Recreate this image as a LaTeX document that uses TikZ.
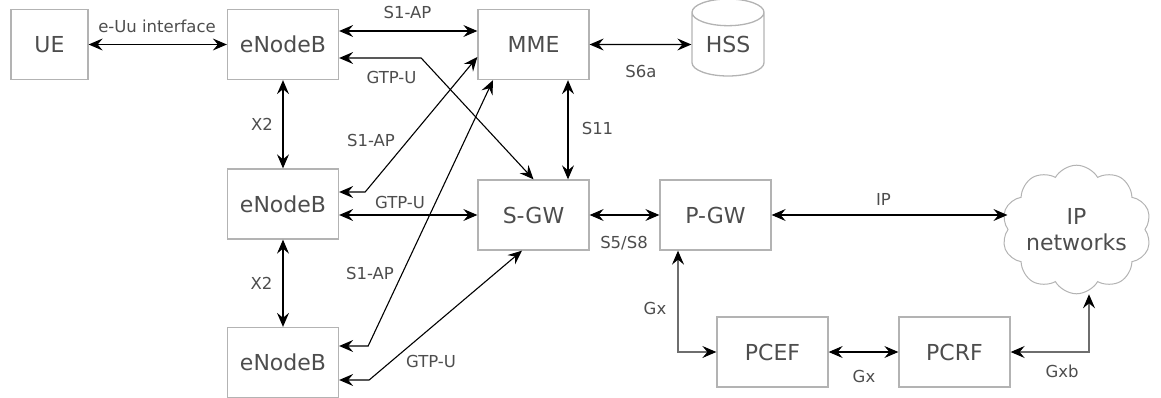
\documentclass[tikz,border=0pt]{standalone}
\usepackage{fontspec}
\setmainfont{DejaVu Sans}
\usepackage{xcolor}
\usetikzlibrary{shapes, shapes.geometric, shapes.symbols, arrows.meta}

\definecolor{boxgray}{RGB}{179,179,179}
\definecolor{textgray}{RGB}{77,77,77}
\definecolor{gxgray}{RGB}{110,110,110}

\begin{document}
\begin{tikzpicture}[x=1pt, y=1pt,
        >={Stealth[length=14pt, width=12pt, inset=5pt, color=black]},
        box/.style={draw=boxgray, line width=1.3pt, text=textgray, minimum width=111pt, minimum height=70pt, inner sep=0pt, font=\fontsize{22}{26}\selectfont},
        lbl/.style={text=textgray, inner sep=0pt, font=\fontsize{16.5}{18}\selectfont},
        link/.style={<->, line width=1.1pt},
        gxlink/.style={<->, line width=1.3pt, draw=gxgray}]
        \useasboundingbox (0, 0) rectangle (1161, -398);

        \node[box, minimum width=77pt] (ue) at (49.5, -44.5) {UE};
        \node[box] (enbA) at (283, -44.5) {eNodeB};
        \node[box] (mme) at (533.5, -44.5) {MME};
        \node[box, cylinder, shape border rotate=90, aspect=0.6, minimum width=72pt, minimum height=77pt] (hss) at (728, -44.5) {HSS};
        \node[box] (enbB) at (283, -204) {eNodeB};
        \node[box] (sgw) at (533.5, -215) {S-GW};
        \node[box] (enbC) at (283, -362.5) {eNodeB};
        \node[box] (pgw) at (715.5, -215) {P-GW};
        \node[box] (pcef) at (772.5, -352) {PCEF};
        \node[box] (pcrf) at (954.5, -352) {PCRF};
        \node[box, cloud, cloud puffs=10, cloud puff arc=120, aspect=1.25, line width=1pt, minimum width=10pt, minimum height=10pt, inner sep=-2pt, align=center] (net) at (1076.5, -229.5) {IP\\networks};

        \draw[link] (ue.east) -- (enbA.west);
        \draw[link] ([yshift=13.5]enbA.east) -- ([yshift=13.5]mme.west);
        \draw[link] ([yshift=-13.5]enbA.east) -- ++(82, 0) -- (sgw.north);
        \draw[link] (mme.east) -- (hss.west);
        \draw[link] ([xshift=34.5]mme.south) -- ([xshift=34.5]sgw.north);
        \draw[link] (enbA) -- (enbB);
        \draw[link] (enbB) -- (enbC);
        \draw[link] ([yshift=12]enbB.east) -- ++(26, 0) -- ([yshift=-12.5]mme.west);
        \draw[link] (sgw.west -| enbB.east) -- (sgw.west);
        \draw[link] ([yshift=16.5]enbC.east) -- ++(29, 0) -- ([xshift=-40.5]mme.south);
        \draw[link] ([yshift=-17.5]enbC.east) -- ++(30, 0) -- ([xshift=-11.5]sgw.south);
        \draw[link] (sgw) -- (pgw);
        \draw[link] (pgw.east) -- (pgw.east -| net.west);
        \draw[gxlink] ([xshift=-37.5]pgw.south) |- (pcef);
        \draw[link] (pcef) -- (pcrf);
        \draw[gxlink] (pcrf) -| ([xshift=12.5]net.south);

        \node[lbl] (lUu) at (157, -26) {e-Uu interface};
        \node[lbl] (lApA) at (407.5, -12.5) {S1-AP};
        \node[lbl] (lGtA) at (391.5, -77.5) {GTP-U};
        \node[lbl] (lS6a) at (641, -71) {S6a};
        \node[lbl] (lS11) at (597.5, -128) {S11};
        \node[lbl] (lXA) at (262, -124) {X2};
        \node[lbl] (lXB) at (261.5, -283) {X2};
        \node[lbl] (lApB) at (371, -140) {S1-AP};
        \node[lbl] (lGtB) at (400, -202) {GTP-U};
        \node[lbl] (lApC) at (370, -273.5) {S1-AP};
        \node[lbl] (lGtC) at (431, -361.5) {GTP-U};
        \node[lbl] (lS5) at (624, -243) {S5/S8};
        \node[lbl] (lIP) at (883.5, -199) {IP};
        \node[lbl] (lGxA) at (655, -308.5) {Gx};
        \node[lbl] (lGxB) at (864, -376) {Gx};
        \node[lbl] (lGxb) at (1062, -371.5) {Gxb};
    \end{tikzpicture}
\end{document}
